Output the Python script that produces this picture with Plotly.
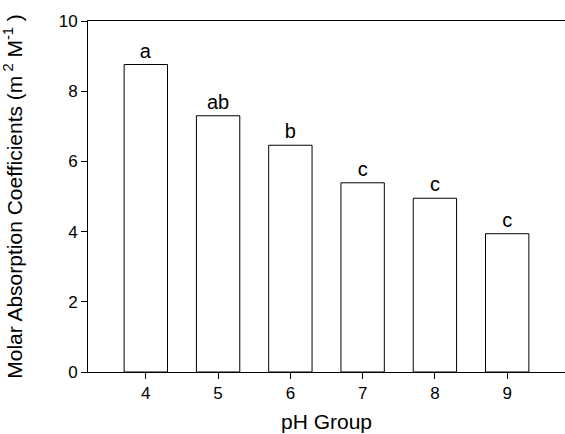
import plotly.graph_objects as go

ph_groups = [4, 5, 6, 7, 8, 9]
coefficients = [8.76, 7.30, 6.46, 5.39, 4.95, 3.94]
letters = ["a", "ab", "b", "c", "c", "c"]

FONT = "Liberation Sans, Arial, sans-serif"

fig = go.Figure(
    go.Bar(
        x=ph_groups,
        y=coefficients,
        text=letters,
        textposition="outside",
        textfont=dict(family=FONT, size=20, color="black"),
        cliponaxis=False,
        width=0.6,
        marker=dict(color="white", line=dict(color="black", width=1)),
    )
)

fig.update_layout(
    width=565,
    height=434,
    margin=dict(l=88, r=0, t=21, b=62, autoexpand=False),
    paper_bgcolor="white",
    plot_bgcolor="white",
    showlegend=False,
    font=dict(family=FONT, color="black"),
)

fig.update_xaxes(
    range=[3.2, 9.8],
    tickmode="array",
    tickvals=ph_groups,
    ticktext=[str(v) for v in ph_groups],
    ticks="outside",
    ticklen=6,
    tickcolor="black",
    showline=True,
    linecolor="black",
    linewidth=1,
    mirror=True,
    showgrid=False,
    zeroline=False,
    automargin=False,
    tickfont=dict(family=FONT, size=17, color="black"),
    title=dict(text="pH Group", font=dict(family=FONT, size=21, color="black"), standoff=11),
)

fig.update_yaxes(
    range=[0, 10],
    tickvals=[0, 2, 4, 6, 8, 10],
    ticks="outside",
    ticklen=6,
    tickcolor="black",
    showline=True,
    linecolor="black",
    linewidth=1,
    mirror=False,
    showgrid=False,
    zeroline=False,
    automargin=False,
    tickfont=dict(family=FONT, size=17, color="black"),
    title=dict(
        text="Molar Absorption Coefficients (m<sup> 2</sup> M<sup>-1</sup> )",
        font=dict(family=FONT, size=21, color="black"),
        standoff=36,
    ),
)

fig.write_html(
    "out.html",
    config={"displayModeBar": False},
    post_script="document.body.style.margin='0';document.body.style.overflow='hidden';",
)
